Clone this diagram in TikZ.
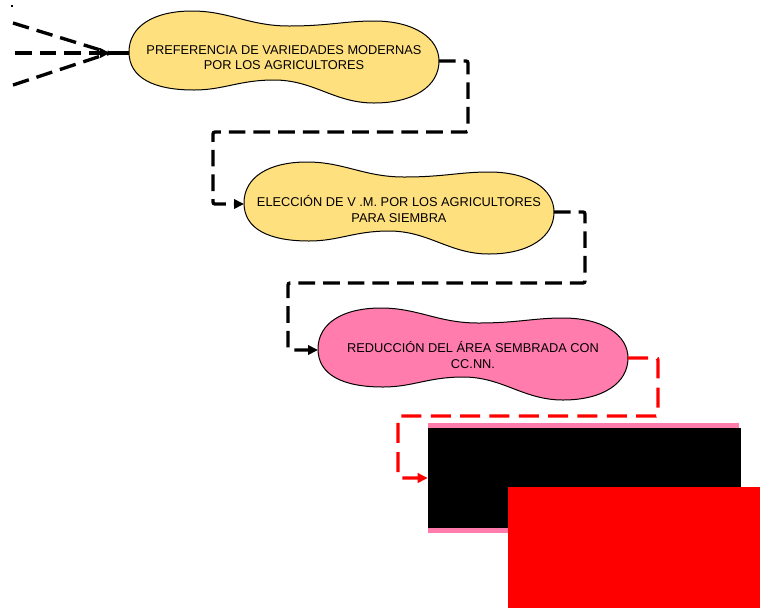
\documentclass[tikz,border=0pt]{standalone}
\usepackage{fontspec}
\setmainfont{Liberation Sans}
\usetikzlibrary{arrows.meta,backgrounds,calc}
\definecolor{Lemon}{HTML}{FFE07F}
\definecolor{Blush}{HTML}{FF7CAC}
\definecolor{Alarm}{HTML}{FF0000}
\newcommand{\drawpeanut}[2]{\draw[blob,fill=#2,shift={(#1.center)}] (-155,-6) .. controls (-155,-32) and (-130,-47) .. (-92,-47) .. controls (-55,-47) and (-35,-32) .. (5,-32) .. controls (45,-32) and (60,-37) .. (90,-37) .. controls (130,-37) and (155,-20) .. (155,3) .. controls (155,28) and (130,45) .. (90,45) .. controls (50,45) and (30,22) .. (-10,22) .. controls (-45,22) and (-60,32) .. (-90,32) .. controls (-130,32) and (-155,20) .. cycle;}

\begin{document}
\begin{tikzpicture}[x=0.75pt,y=-0.75pt,every node/.style={font=\fontsize{9.6}{11.3}\selectfont,align=center,inner sep=0pt},blob/.style={draw=black,line width=0.75pt},link/.style={line width=2.5pt,dash pattern=on 12.5pt off 6pt,rounded corners=1.5pt},redlink/.style={link,draw=Alarm,dash pattern=on 15pt off 7pt},tip/.style={-{Triangle[length=7.5pt,width=7pt]}},redtip/.style={-{Triangle[length=7.5pt,width=7pt,fill=Alarm]}}]
\useasboundingbox (0,0) rectangle (760,608);
% the three steps
\node (p1) at (284,58) {PREFERENCIA DE VARIEDADES MODERNAS\\POR LOS AGRICULTORES};
\node (p2) at (399,209) {ELECCIÓN DE V .M. POR LOS AGRICULTORES\\PARA SIEMBRA};
\node (p3) at (473,355) {REDUCCIÓN DEL ÁREA SEMBRADA CON\\CC.NN.};
\begin{scope}[on background layer]
\drawpeanut{p1}{Lemon}
\drawpeanut{p2}{Lemon}
\drawpeanut{p3}{Blush}
\end{scope}
\coordinate (p1w) at ($(p1.center)+(-155,-5)$);
\coordinate (p1e) at ($(p1.center)+(155,3)$);
\coordinate (p2w) at ($(p2.center)+(-155,-5)$);
\coordinate (p2e) at ($(p2.center)+(155,3)$);
\coordinate (p3w) at ($(p3.center)+(-155,-5)$);
\coordinate (p3e) at ($(p3.center)+(155,3)$);
% hidden box
\node[fill=black,minimum width=234.75pt,minimum height=75pt] (box) at (584.5,478) {};
\fill[Blush] (box.north west) rectangle ($(box.north east)+(-2,-5)$);
\fill[Blush] (box.south west) rectangle ($(box.south east)+(-2,5)$);
% incoming lines
\coordinate (hub) at (110,53);
\coordinate (in1) at (13,23);
\coordinate (in2) at (15,53);
\coordinate (in3) at (13,85);
\fill (11,5) rectangle (13,6.5);
\draw[link] (in1) -- (hub);
\draw[link] (in3) -- (hub);
\draw[link,tip] (in2) -- (hub);
\draw[line width=2.5pt] (hub) -- (p1w);
% bends
\coordinate (k1) at (468,132);
\coordinate (k2) at (213,132);
\coordinate (k3) at (585,283);
\coordinate (k4) at (288,283);
\coordinate (k5) at (658,416);
\coordinate (k6) at (398,416);
\draw[link,tip] (p1e) -| (k1) -- (k2) |- (p2w);
\draw[link,tip] (p2e) -| (k3) -- (k4) |- (p3w);
\draw[redlink,redtip] (p3e) -| (k5) -- (k6) |- (box.west);
\fill[Alarm] (508,487) rectangle (760,608);
\end{tikzpicture}
\end{document}
